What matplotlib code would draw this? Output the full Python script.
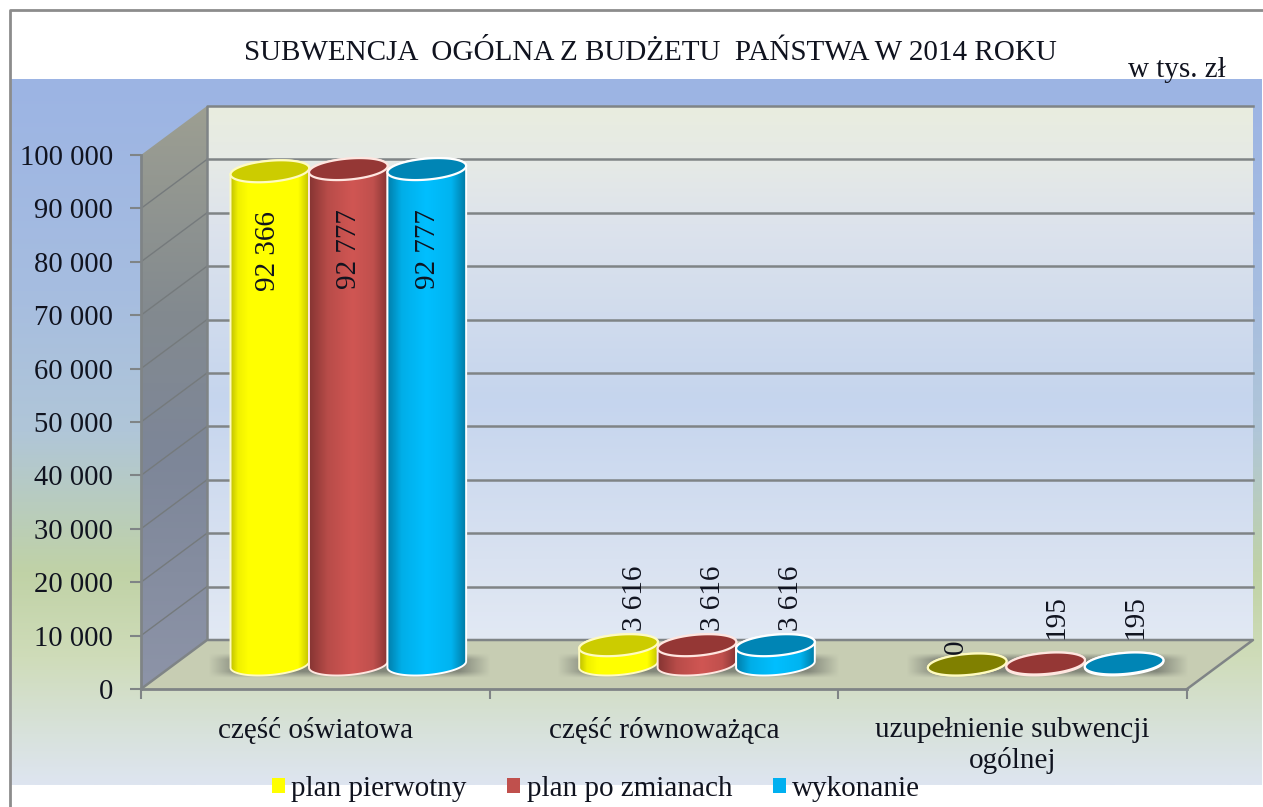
import numpy as np
from matplotlib import pyplot as plt
from matplotlib.patches import Polygon, Patch
from matplotlib.transforms import IdentityTransform

plt.rcParams['font.family'] = ['Liberation Serif', 'DejaVu Serif']

categories = ['część oświatowa', 'część równoważąca', 'uzupełnienie subwencji\nogólnej']
series_names = ['plan pierwotny', 'plan po zmianach', 'wykonanie']
plan_pierwotny = [92366, 3616, 0]
plan_po_zmianach = [92777, 3616, 195]
wykonanie = [92777, 3616, 195]
value_labels = [['92 366', '3 616', '0'], ['92 777', '3 616', '195'], ['92 777', '3 616', '195']]
y_ticks = list(range(0, 100001, 10000))

W, H = 1263, 807
DEPTH = (66, 49)  # glebokosc "pudelka" 3D w pikselach
TEXT = '#10131f'
GRID = '#7f8486'


def hex_rgb(c):
    return [int(c[i:i + 2], 16) / 255 for i in (1, 3, 5)]


def ramp(stops):
    # pionowy albo poziomy gradient z listy (pozycja, kolor)
    pos = [s[0] for s in stops]
    cols = np.array([hex_rgb(s[1]) for s in stops])
    t = np.linspace(0, 1, 256)
    return np.stack([np.interp(t, pos, cols[:, i]) for i in range(3)], axis=1)


fig = plt.figure(figsize=(W / 100, H / 100), dpi=100, facecolor='white')

# tlo calego wykresu w pikselach obrazka
bg = fig.add_axes([0, 0, 1, 1], zorder=0)
bg.set_xlim(0, W)
bg.set_ylim(H, 0)
bg.axis('off')
bg_ramp = ramp([(0, '#9cb4e4'), (0.3, '#a6bde0'), (0.5, '#b0c6d8'), (0.7, '#c0d2a6'),
                (0.82, '#cfdcb9'), (0.93, '#d8e2dc'), (1, '#dee5f0')])
bg.imshow(bg_ramp[:, None, :], extent=(11, 1262, 785, 79), aspect='auto', interpolation='bilinear')
bg.set_xlim(0, W)
bg.set_ylim(H, 0)
bg.plot([10, 10, W], [H, 10, 10], color='#8c8c8c', lw=2, clip_on=False)

bg.text(650, 53, 'SUBWENCJA  OGÓLNA Z BUDŻETU  PAŃSTWA W 2014 ROKU', ha='center', va='center',
        fontsize=21, color=TEXT)
bg.text(1226, 70, 'w tys. zł', ha='right', va='center', fontsize=21, color=TEXT)

# wlasciwy wykres - przednia plaszczyzna pudelka
ax = fig.add_axes([141 / W, 1 - 689 / H, 1046 / W, 534 / H], zorder=1)
ax.patch.set_visible(False)
ax.set_xlim(0, 3)
ax.set_ylim(0, 100000)
for s in ['top', 'right']:
    ax.spines[s].set_visible(False)
for s in ['left', 'bottom']:
    ax.spines[s].set_color(GRID)
    ax.spines[s].set_linewidth(2)
    ax.spines[s].set_zorder(20)

ax.set_yticks(y_ticks)
ax.set_yticklabels([f'{v:,}'.replace(',', ' ') for v in y_ticks], fontsize=20.6, color=TEXT)
ax.set_xticks([0, 1, 2, 3])
ax.set_xticklabels([])
ax.set_xticks([0.5, 1.5, 2.5], minor=True)
ax.set_xticklabels(categories, minor=True, fontsize=21, color=TEXT, linespacing=1.22)
ax.tick_params(axis='y', length=8, width=1.5, color=GRID, pad=12)
ax.tick_params(axis='x', which='major', length=7, width=1.5, color=GRID)
ax.tick_params(axis='x', which='minor', length=0, pad=20)


def front(x, v, k=0.0):
    # piksele ekranu dla punktu danych, k = ulamek glebokosci
    p = ax.transData.transform((x, v))
    return p[0] + DEPTH[0] * k, p[1] + DEPTH[1] * k


def gradient(rgb, extent, clip, zorder):
    im = ax.imshow(rgb, extent=extent, aspect='auto', interpolation='bilinear',
                   transform=IdentityTransform(), zorder=zorder)
    im.set_clip_box(fig.bbox)
    im.set_clip_path(clip)
    return im


def poly(points, **kw):
    p = Polygon(points, closed=True, transform=IdentityTransform(), clip_on=False, **kw)
    ax.add_patch(p)
    return p


# tylna sciana
x0, y0 = front(0, 0, 1)
x1, y1 = front(3, 100000, 1)
wall = poly([(x0, y0), (x1, y0), (x1, y1), (x0, y1)], fc='none', ec='none', zorder=1)
wall_ramp = ramp([(0, '#e9eddf'), (0.1, '#e6eae6'), (0.22, '#dde3ec'), (0.55, '#c5d5ee'),
                  (0.85, '#d9e2f1'), (1, '#e2e9f4')])
gradient(wall_ramp[:, None, :], (x0, x1, y0, y1), wall, 1)
ax.plot([x0, x0, x1], [y0, y1, y1], color=GRID, lw=1.8, transform=IdentityTransform(), clip_on=False, zorder=2)

# lewa sciana
xf0, yf0 = front(0, 0)
xf1, yf1 = front(0, 100000)
side = poly([(xf0, yf0), (x0, y0), (x0, y1), (xf1, yf1)], fc='none', ec='none', zorder=1)
side_ramp = ramp([(0, '#9d9f92'), (0.35, '#838a8f'), (0.6, '#7d8698'), (1, '#8d94a8')])
gradient(side_ramp[:, None, :], (xf0, x0, yf0, y1), side, 1)

# linie siatki na scianach
for v in y_ticks[1:-1]:
    a = front(0, v)
    b = front(0, v, 1)
    c = front(3, v, 1)
    ax.plot([a[0], b[0]], [a[1], b[1]], color='#757a7c', lw=1, transform=IdentityTransform(),
            clip_on=False, zorder=2)
    ax.plot([b[0], c[0]], [b[1], c[1]], color=GRID, lw=1.8, transform=IdentityTransform(),
            clip_on=False, zorder=2)

# podloga
xr, yr = front(3, 0)
poly([(xf0, yf0), (xr, yr), (x1, y0), (x0, y0)], fc='#c7cdb3', ec='none', zorder=3)
ax.plot([xf0, x0, x1, xr], [yf0, y0, y0, yr], color=GRID, lw=1.8, transform=IdentityTransform(),
        clip_on=False, zorder=4)

series = [plan_pierwotny, plan_po_zmianach, wykonanie]
BAR_STEP = 0.225
BAR_A, BAR_B, TILT = 39.5, 10.5, np.radians(5)
side_colors = [
    [(0, '#b0b000'), (0.12, '#f0f000'), (0.25, '#ffff00'), (0.85, '#ffff00'), (1, '#b8b800')],
    [(0, '#803230'), (0.25, '#b84c49'), (0.55, '#d05653'), (0.8, '#c0504d'), (1, '#7c3130')],
    [(0, '#0076a0'), (0.2, '#00aee8'), (0.5, '#00bfff'), (0.8, '#00b4f0'), (1, '#00729a')],
]
top_colors = ['#cccc00', '#953735', '#0085b5']
zero_color = '#808000'
edge_colors = ['#fffbc0', '#ffe6e0', '#ffffff']
# polozenie etykiet wzgledem gornej elipsy
label_big = ([-2, 1, 1], -80)
label_small = (16, 14)
label_tiny = (11, 24)
label_zero = (-11, 10)


def ellipse_points(cx, cy, t):
    x = cx + BAR_A * np.cos(t) * np.cos(TILT) - BAR_B * np.sin(t) * np.sin(TILT)
    y = cy + BAR_A * np.cos(t) * np.sin(TILT) + BAR_B * np.sin(t) * np.cos(TILT)
    return np.column_stack([x, y])


# cien na podlodze, miekki na brzegach
for c in range(3):
    cx, cy = front(c + 0.5, 0, 0.5)
    sx0, sx1, sy0, sy1 = cx - 140, cx + 143, cy - 13, cy + 12
    gx = np.clip(np.minimum(np.linspace(0, 1, 200), np.linspace(1, 0, 200)) * 9, 0, 1)
    gy = np.clip(np.minimum(np.linspace(0, 1, 40), np.linspace(1, 0, 40)) * 4, 0, 1)
    shadow = np.zeros((40, 200, 4))
    shadow[..., :3] = hex_rgb('#7b7f74')
    shadow[..., 3] = np.outer(gy, gx) * 0.9
    im = ax.imshow(shadow, extent=(sx0, sx1, sy0, sy1), aspect='auto', interpolation='bilinear',
                   transform=IdentityTransform(), zorder=5)
    im.set_clip_box(fig.bbox)

# cylindry
for i, values in enumerate(series):
    rgb = ramp(side_colors[i])[None, :, :]
    for c, v in enumerate(values):
        cx, cy_base = front(c + 0.5 + (i - 1) * BAR_STEP, 0, 0.5)
        _, cy_top = front(c + 0.5 + (i - 1) * BAR_STEP, v, 0.5)
        z = 6 + i
        lower = ellipse_points(cx, cy_base, np.linspace(np.pi, 2 * np.pi, 40))
        upper = ellipse_points(cx, cy_top, np.linspace(0, np.pi, 40))
        body = poly(np.vstack([lower, upper]), fc='none', ec=edge_colors[i], lw=1.4, zorder=z + 0.2)
        gradient(rgb, (cx - BAR_A - 2, cx + BAR_A + 2, cy_base - 20, cy_top + 20), body, z)
        poly(ellipse_points(cx, cy_top, np.linspace(0, 2 * np.pi, 80)),
             fc=top_colors[i] if v > 0 else zero_color, ec=edge_colors[i], lw=1.6, zorder=z + 0.3)

        if v > 50000:
            dx, dy = label_big[0][i], label_big[1]
        elif v > 1000:
            dx, dy = label_small
        elif v > 0:
            dx, dy = label_tiny
        else:
            dx, dy = label_zero
        va = 'center' if v > 50000 else 'bottom'
        ax.text(cx + dx, cy_top + dy, value_labels[i][c], rotation=90, ha='center', va=va,
                transform=IdentityTransform(), fontsize=21, color=TEXT, zorder=10, clip_on=False)

# legenda
handles = [Patch(fc=top, ec='none', label=n)
           for top, n in zip(['#ffff00', '#c0504d', '#00b0f0'], series_names)]
fig.legend(handles=handles, loc='center', bbox_to_anchor=(596 / W, 1 - 789 / H), ncol=3, frameon=False,
           fontsize=21, handlelength=0.45, handleheight=0.45, handletextpad=0.22, columnspacing=1.38,
           labelcolor=TEXT, borderpad=0)

fig.savefig('out.png', dpi=100)
